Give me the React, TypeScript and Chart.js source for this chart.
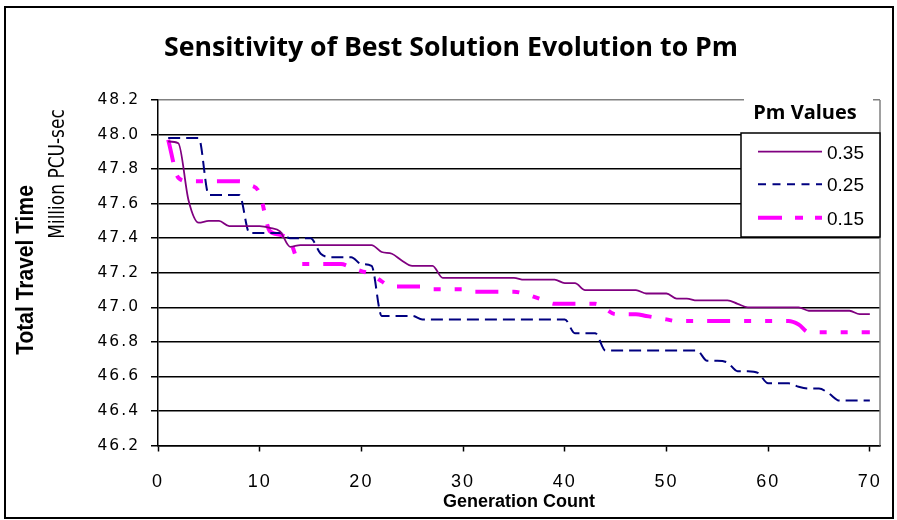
import { useEffect, useRef } from 'react';
import { Chart, registerables } from 'chart.js';

Chart.register(...registerables);

const TITLE = 'Sensitivity of Best Solution Evolution to Pm';
const X_TITLE = 'Generation Count';
const Y_TITLE = 'Total Travel Time';
const Y_UNIT = 'Million PCU-sec';
const LEGEND_TITLE = 'Pm Values';
const SERIES_LABELS = ['0.35', '0.25', '0.15'];

const GENERATIONS = [
  1, 2, 3, 4, 5, 6, 7, 8, 9, 10,
  11, 12, 13, 14, 15, 16, 17, 18, 19, 20,
  21, 22, 23, 24, 25, 26, 27, 28, 29, 30,
  31, 32, 33, 34, 35, 36, 37, 38, 39, 40,
  41, 42, 43, 44, 45, 46, 47, 48, 49, 50,
  51, 52, 53, 54, 55, 56, 57, 58, 59, 60,
  61, 62, 63, 64, 65, 66, 67, 68, 69, 70,
];

const PM_035 = [
  47.96, 47.95, 47.62, 47.49, 47.50, 47.50, 47.47, 47.47, 47.47, 47.47,
  47.46, 47.44, 47.35, 47.36, 47.36, 47.36, 47.36, 47.36, 47.36, 47.36,
  47.36, 47.32, 47.31, 47.27, 47.24, 47.24, 47.24, 47.17, 47.17, 47.17,
  47.17, 47.17, 47.17, 47.17, 47.17, 47.16, 47.16, 47.16, 47.16, 47.14,
  47.14, 47.10, 47.10, 47.10, 47.10, 47.10, 47.10, 47.08, 47.08, 47.08,
  47.05, 47.05, 47.04, 47.04, 47.04, 47.04, 47.02, 47.00, 47.00, 47.00,
  47.00, 47.00, 47.00, 46.98, 46.98, 46.98, 46.98, 46.98, 46.96, 46.96,
];

const PM_025 = [
  47.98, 47.98, 47.98, 47.98, 47.65, 47.65, 47.65, 47.65, 47.43, 47.43,
  47.43, 47.43, 47.40, 47.40, 47.40, 47.31, 47.29, 47.29, 47.29, 47.25,
  47.24, 46.95, 46.95, 46.95, 46.95, 46.93, 46.93, 46.93, 46.93, 46.93,
  46.93, 46.93, 46.93, 46.93, 46.93, 46.93, 46.93, 46.93, 46.93, 46.93,
  46.85, 46.85, 46.85, 46.75, 46.75, 46.75, 46.75, 46.75, 46.75, 46.75,
  46.75, 46.75, 46.75, 46.69, 46.69, 46.68, 46.63, 46.63, 46.62, 46.56,
  46.56, 46.56, 46.54, 46.53, 46.53, 46.50, 46.46, 46.46, 46.46, 46.46,
];

const PM_015 = [
  47.97, 47.75, 47.73, 47.73, 47.73, 47.73, 47.73, 47.73, 47.71, 47.66,
  47.44, 47.42, 47.38, 47.25, 47.25, 47.25, 47.25, 47.25, 47.23, 47.21,
  47.19, 47.15, 47.12, 47.12, 47.12, 47.12, 47.105, 47.105, 47.105, 47.105,
  47.09, 47.09, 47.09, 47.09, 47.09, 47.08, 47.06, 47.04, 47.02, 47.02,
  47.02, 47.02, 47.02, 46.99, 46.96, 46.96, 46.96, 46.95, 46.94, 46.93,
  46.92, 46.92, 46.92, 46.92, 46.92, 46.92, 46.92, 46.92, 46.92, 46.92,
  46.92, 46.92, 46.90, 46.855, 46.855, 46.855, 46.855, 46.855, 46.855, 46.855,
];

const X_TICKS = [0, 10, 20, 30, 40, 50, 60, 70];
const X_MIN = 0;
const X_MAX = 71;
const Y_MIN = 46.2;
const Y_MAX = 48.2;
const Y_STEP = 0.2;

const COLORS = ['#800080', '#000080', '#FF00FF'];
const WIDTHS = [1.8, 2, 4];
const DASHES: number[][] = [[], [12, 6], [23, 14, 7, 14, 7, 14]];
const LEGEND_DASHES: number[][] = [[], [8, 6.5], [24, 13, 8, 12, 8, 12]];

const decorPlugin = {
  id: 'decor',
  beforeDraw(chart: any) {
    const ctx = chart.ctx;
    ctx.save();
    ctx.fillStyle = '#fff';
    ctx.fillRect(0, 0, chart.width, chart.height);
    ctx.restore();
    ctx.letterSpacing = '2px';
  },
  beforeDatasetsDraw(chart: any) {
    const ctx = chart.ctx;
    ctx.letterSpacing = '0px';
    const { top, bottom, right } = chart.chartArea;
    ctx.save();
    ctx.strokeStyle = '#808080';
    ctx.lineWidth = 1.5;
    ctx.beginPath();
    ctx.moveTo(right, top);
    ctx.lineTo(right, bottom);
    ctx.stroke();
    ctx.restore();
  },
  afterDraw(chart: any) {
    const ctx = chart.ctx;
    ctx.save();
    ctx.letterSpacing = '0px';
    ctx.fillStyle = '#000';

    // title
    ctx.font = 'bold 26.7px "Open Sans"';
    ctx.textAlign = 'center';
    ctx.textBaseline = 'alphabetic';
    ctx.fillText(TITLE, 451, 56);

    // x title
    ctx.font = 'bold 18px "Liberation Sans"';
    ctx.fillText(X_TITLE, 519, 507);

    // y title
    ctx.save();
    ctx.translate(24, 270);
    ctx.scale(1.16, 1);
    ctx.rotate(-Math.PI / 2);
    ctx.font = 'bold 21px "Liberation Sans"';
    ctx.fillText(Y_TITLE, 0, 7.5);
    ctx.restore();

    // y unit
    ctx.save();
    ctx.translate(57, 174);
    ctx.scale(1.2, 1);
    ctx.rotate(-Math.PI / 2);
    ctx.font = '17px "DejaVu Sans"';
    ctx.fillText(Y_UNIT, 0, 6.2);
    ctx.restore();

    // legend
    ctx.fillStyle = '#fff';
    ctx.fillRect(744, 92, 129, 40);
    ctx.fillRect(741, 133, 139, 104);
    ctx.strokeStyle = '#000';
    ctx.lineWidth = 1.5;
    ctx.strokeRect(741, 133, 139, 104);
    ctx.fillStyle = '#000';
    ctx.font = 'bold 20px "Open Sans"';
    ctx.textAlign = 'center';
    ctx.fillText(LEGEND_TITLE, 805, 119);

    const rows = [151.7, 184.3, 217.7];
    chart.data.datasets.forEach((ds: any, i: number) => {
      const y = rows[i];
      ctx.save();
      ctx.strokeStyle = COLORS[i];
      ctx.lineWidth = WIDTHS[i];
      ctx.setLineDash(LEGEND_DASHES[i]);
      ctx.beginPath();
      ctx.moveTo(758, y);
      ctx.lineTo(822, y);
      ctx.stroke();
      ctx.restore();
      ctx.fillStyle = '#000';
      ctx.font = '19px "Liberation Sans"';
      ctx.textAlign = 'left';
      ctx.textBaseline = 'alphabetic';
      ctx.fillText(ds.label, 827, y + 6.8);
    });

    // outer border
    ctx.strokeStyle = '#000';
    ctx.lineWidth = 2;
    ctx.setLineDash([]);
    ctx.strokeRect(5, 7, 888, 511);
    ctx.restore();
  },
};

export default function App() {
  const ref = useRef<HTMLCanvasElement>(null);

  useEffect(() => {
    const series = [PM_035, PM_025, PM_015];
    const chart = new Chart(ref.current as HTMLCanvasElement, {
      type: 'line',
      data: {
        datasets: series.map((vals, i) => ({
          label: SERIES_LABELS[i],
          data: GENERATIONS.map((g, j) => ({ x: g, y: vals[j] })),
          borderColor: COLORS[i],
          backgroundColor: COLORS[i],
          borderWidth: WIDTHS[i],
          borderDash: DASHES[i],
          pointRadius: 0,
          fill: false,
          cubicInterpolationMode: 'monotone',
          borderCapStyle: 'butt',
        })),
      },
      options: {
        animation: false,
        responsive: false,
        devicePixelRatio: 1,
        layout: { padding: { top: 100, right: 17, left: 0, bottom: 0 } },
        plugins: {
          legend: { display: false },
          title: { display: false },
          tooltip: { enabled: false },
        },
        scales: {
          x: {
            type: 'linear',
            min: X_MIN,
            max: X_MAX,
            afterBuildTicks: (scale: any) => {
              scale.ticks = X_TICKS.map((v) => ({ value: v }));
            },
            afterFit: (scale: any) => {
              scale.height = 74.5;
              scale.paddingLeft = 0;
              scale.paddingRight = 0;
            },
            ticks: {
              color: '#000',
              padding: 20,
              font: { family: '"Liberation Sans"', size: 18 },
              maxRotation: 0,
              autoSkip: false,
            },
            grid: {
              display: true,
              drawOnChartArea: false,
              drawTicks: true,
              tickLength: 6,
              tickColor: '#000',
              tickWidth: 1.5,
            },
            border: { display: true, color: '#000', width: 1.5 },
          },
          y: {
            type: 'linear',
            min: Y_MIN,
            max: Y_MAX,
            afterFit: (scale: any) => {
              scale.width = 158;
              scale.paddingTop = 0;
              scale.paddingBottom = 0;
            },
            ticks: {
              stepSize: Y_STEP,
              color: '#000',
              padding: 11,
              font: { family: '"DejaVu Sans"', size: 15.5 },
              callback: (v: any) => Number(v).toFixed(1),
            },
            grid: {
              color: (c: any) => (Math.abs(c.tick.value - Y_MAX) < 1e-6 ? '#808080' : '#000'),
              lineWidth: 1.5,
              drawTicks: true,
              tickLength: 7,
              tickColor: '#000',
              tickWidth: 1.5,
            },
            border: { display: true, color: '#000', width: 1.5 },
          },
        },
      },
      plugins: [decorPlugin],
    } as any);
    return () => chart.destroy();
  }, []);

  return (
    <div style={{ position: 'absolute', left: 0, top: 0, width: 897, height: 520, background: '#fff' }}>
      <canvas ref={ref} width={897} height={520} style={{ display: 'block', width: 897, height: 520 }} />
    </div>
  );
}
